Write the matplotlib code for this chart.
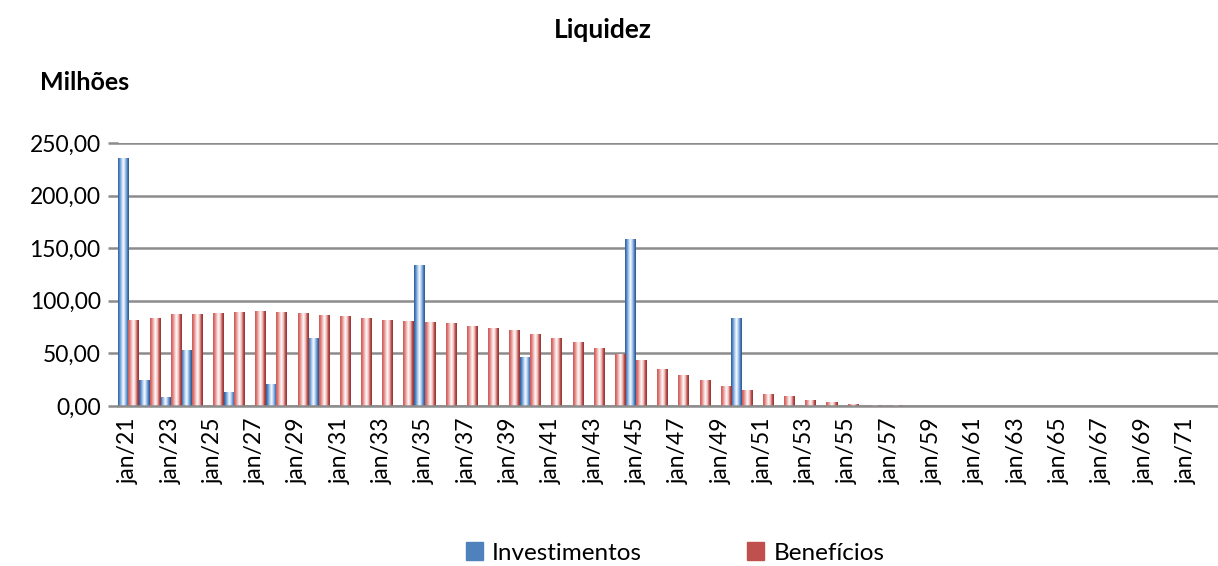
import numpy as np
import matplotlib
matplotlib.use("Agg")
import matplotlib.pyplot as plt
from matplotlib.colors import LinearSegmentedColormap
from matplotlib.patches import Patch
from matplotlib.ticker import FuncFormatter

plt.rcParams["font.family"] = ["Lato", "DejaVu Sans"]

years = list(range(21, 73))
labels = ["jan/%02d" % y for y in years]

investimentos = [235, 24.7, 8.2, 53.2, 0, 13, 0, 20.9, 0, 64.3,
                 0, 0, 0, 0, 133.4, 0, 0, 0, 0, 46,
                 0, 0, 0, 0, 157.8, 0, 0, 0, 0, 82.7,
                 0, 0, 0, 0, 0, 0, 0, 0, 0, 0,
                 0, 0, 0, 0, 0, 0, 0, 0, 0, 0,
                 0, 0]
beneficios = [81.7, 83.3, 87, 86.8, 88, 89, 89.4, 89, 88, 86.2,
              84.9, 83.3, 81.7, 80.5, 79.5, 78.3, 76, 73.8, 71.6, 68.4,
              64.3, 60.2, 54.8, 49.1, 42.8, 34.8, 29.1, 24.7, 19, 14.3,
              11.1, 8.6, 5.7, 3.2, 1.6, 0.8, 0.3, 0, 0, 0,
              0, 0, 0, 0, 0, 0, 0, 0, 0, 0,
              0, 0]

BLUE = "#4F81BD"
RED = "#C0504D"
GRID = "#8C8C8C"

blue_cmap = LinearSegmentedColormap.from_list(
    "b", [(0, "#2E5C94"), (0.12, "#4A7FC0"), (0.3, "#9DC0EA"), (0.5, "#FFFFFF"),
          (0.7, "#9DC0EA"), (0.86, "#4A7FC0"), (1, "#2B5382")])
red_cmap = LinearSegmentedColormap.from_list(
    "r", [(0, "#CC5A57"), (0.12, "#D9706C"), (0.3, "#F0B5B3"), (0.5, "#FFFFFF"),
          (0.7, "#F0B5B3"), (0.86, "#B84C49"), (1, "#8C3532")])


def shade(ax, bars, cmap, z):
    grad = np.linspace(0, 1, 64).reshape(1, -1)
    for b in bars:
        h = b.get_height()
        if h <= 0:
            continue
        x0, w = b.get_x(), b.get_width()
        ax.imshow(grad, cmap=cmap, extent=(x0, x0 + w, 0, h), aspect="auto",
                  interpolation="bilinear", zorder=z)


fig = plt.figure(figsize=(12.18, 5.66), dpi=100)
ax = fig.add_axes([118 / 1218, 1 - 406 / 566, 1 - 118 / 1218, (406 - 143) / 566])

x = np.arange(len(years))
w = 0.52
b1 = ax.bar(x - 0.25, investimentos, w, color=BLUE, zorder=2)
b2 = ax.bar(x + 0.25, beneficios, w, color=RED, zorder=3)
shade(ax, b1, blue_cmap, 2.1)
shade(ax, b2, red_cmap, 3.1)

ax.set_xlim(-0.5, len(years) - 0.5)
ax.set_ylim(0, 250)
ax.set_yticks([0, 50, 100, 150, 200, 250])
ax.yaxis.set_major_formatter(FuncFormatter(lambda v, p: ("%.2f" % v).replace(".", ",")))
ax.set_xticks(x[::2])
ax.set_xticklabels(labels[::2], rotation=90)

ax.grid(axis="y", color=GRID, linewidth=1.8, zorder=0)
ax.set_axisbelow(True)
for s in ["top", "right", "left"]:
    ax.spines[s].set_visible(False)
ax.spines["bottom"].set_color(GRID)
ax.spines["bottom"].set_linewidth(1.8)
ax.spines["bottom"].set_zorder(4)
ax.tick_params(axis="y", length=7.5, width=1.8, color=GRID, labelsize=16.5, pad=5)
ax.tick_params(axis="x", length=0, labelsize=16.5, pad=8)

fig.text(0.495, 1 - 30 / 566, "Liquidez", ha="center", va="center", fontsize=19, fontweight="bold")
fig.text(40 / 1218, 1 - 83 / 566, "Milhões", ha="left", va="center", fontsize=18, fontweight="bold")

handles = [Patch(color=BLUE, label="Investimentos"), Patch(color=RED, label="Benefícios")]
fig.legend(handles=handles, loc="center", bbox_to_anchor=(675 / 1218, 1 - 553 / 566), ncol=2,
           frameon=False, fontsize=17.5, handlelength=0.7, handleheight=0.7, handletextpad=0.4,
           columnspacing=4.3)

fig.savefig("out.png", dpi=100)
